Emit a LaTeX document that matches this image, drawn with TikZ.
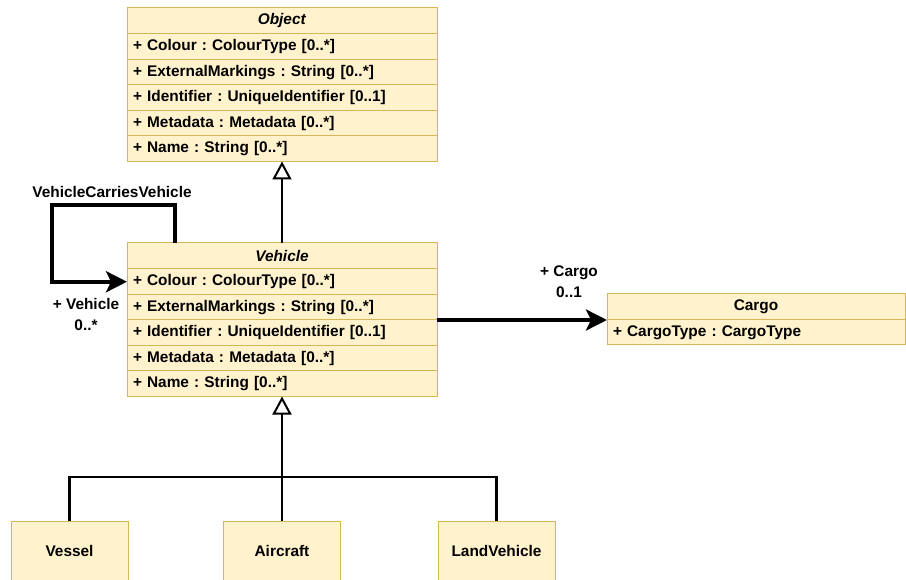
\documentclass[tikz,border=0pt]{standalone}
\usepackage{fontspec}
\setmainfont{Liberation Sans}
\usetikzlibrary{arrows.meta, positioning, calc}
\frenchspacing

\definecolor{umlfill}{HTML}{FFF2CC}
\definecolor{umlline}{HTML}{D6B656}

\tikzset{
  cls/.style={draw=umlline, fill=umlfill, line width=1pt, outer sep=0pt, inner sep=0pt,
              font=\fontsize{15.4}{18}\selectfont\bfseries},
  clshead/.style={cls, anchor=north west, minimum width=310pt, minimum height=26pt},
  clsattr/.style={cls, minimum height=25.5pt, text width=298pt, inner xsep=6pt, align=left},
  leaf/.style={cls, anchor=north west, minimum width=117pt, minimum height=60pt},
  lbl/.style={font=\fontsize{15.4}{21}\selectfont\bfseries, align=center, inner sep=0pt},
  gen/.style={line width=2.5pt, -{Triangle[open, fill=white, length=18pt, width=19pt, line width=2pt]}},
  genline/.style={line width=2.5pt},
  assoc/.style={line width=4pt, -{Stealth[length=21pt, width=21pt, inset=5pt]}}
}

\begin{document}
\begin{tikzpicture}[x=1pt, y=-1pt]
    \useasboundingbox (0,0) rectangle (906,580);

    %% Object
    \node[clshead] (obj0) at (127,8) {\textit{Object}};
    \node[clsattr, below=0pt of obj0] (obj1) {+ Colour : ColourType [0..*]};
    \node[clsattr, below=0pt of obj1] (obj2) {+ ExternalMarkings : String [0..*]};
    \node[clsattr, below=0pt of obj2] (obj3) {+ Identifier : UniqueIdentifier [0..1]};
    \node[clsattr, below=0pt of obj3] (obj4) {+ Metadata : Metadata [0..*]};
    \node[clsattr, below=0pt of obj4] (obj5) {+ Name : String [0..*]};

    %% Vehicle
    \node[clshead] (veh0) at (127,243) {\textit{Vehicle}};
    \node[clsattr, below=0pt of veh0] (veh1) {+ Colour : ColourType [0..*]};
    \node[clsattr, below=0pt of veh1] (veh2) {+ ExternalMarkings : String [0..*]};
    \node[clsattr, below=0pt of veh2] (veh3) {+ Identifier : UniqueIdentifier [0..1]};
    \node[clsattr, below=0pt of veh3] (veh4) {+ Metadata : Metadata [0..*]};
    \node[clsattr, below=0pt of veh4] (veh5) {+ Name : String [0..*]};

    %% Cargo
    \node[clshead, minimum width=298pt] (cargo0) at (607,294) {Cargo};
    \node[clsattr, text width=286pt, minimum height=25pt, below=0pt of cargo0] (cargo1) {+ CargoType : CargoType};

    %% subclasses
    \node[leaf] (vessel) at (11,521) {Vessel};
    \node[leaf] (aircraft) at (223.5,521) {Aircraft};
    \node[leaf] (landveh) at (438,521) {LandVehicle};

    %% generalisations
    \draw[gen] (veh0.north) -- (obj5.south);
    \coordinate (fork) at ($(aircraft.north) + (0,-44)$);
    \draw[genline] (vessel.north) |- (fork) -| (landveh.north);
    \draw[gen] (aircraft.north) -- (veh5.south);

    %% VehicleCarriesVehicle
    \draw[assoc] ([xshift=48pt]veh0.north west) -- ++(0,-38) -| ([xshift=-75pt]veh1.west) -- (veh1.west);
    \node[lbl] (carrieslbl) at (112,192) {VehicleCarriesVehicle};
    \node[lbl] (vehlbl) at (86,314) {+ Vehicle\\0..*};

    %% Cargo
    \draw[assoc] (veh2.south east) -- (cargo0.south west);
    \node[lbl] (cargolbl) at (569,282) {+ Cargo\\0..1};
\end{tikzpicture}
\end{document}
